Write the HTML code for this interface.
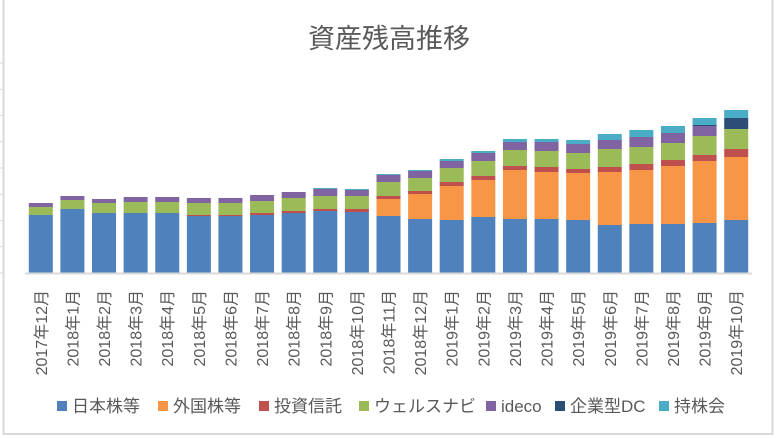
<!DOCTYPE html>
<html><head><meta charset="utf-8"><style>
html,body{margin:0;padding:0;background:#fff;}
svg{display:block;font-family:"Liberation Sans","Noto Sans CJK JP",sans-serif;}
</style></head><body>
<svg id="chart" width="777" height="438" viewBox="0 0 777 438">
<rect x="3.5" y="-2" width="769" height="436" fill="#fff" stroke="#d9d9d9" stroke-width="2"/>
<text x="389" y="48" text-anchor="middle" font-size="27" fill="#595959">資産残高推移</text>
<g id="plot"></g>
<g id="legend"></g>
</svg>
<script>
const categories=["2017年12月","2018年1月","2018年2月","2018年3月","2018年4月","2018年5月","2018年6月","2018年7月","2018年8月","2018年9月","2018年10月","2018年11月","2018年12月","2019年1月","2019年2月","2019年3月","2019年4月","2019年5月","2019年6月","2019年7月","2019年8月","2019年9月","2019年10月"];
const seriesNames=["日本株等","外国株等","投資信託","ウェルスナビ","ideco","企業型DC","持株会"];
const japanStocks=[58,64,60,60,60,57,57,58,60,62,61,57,54,53,56,54,54,53,48,49,49,50,53];
const foreignStocks=[0,0,0,0,0,0,0,0,0,0,0,17,25,34,37,49,47,47,53,54,58,62,63];
const investTrust=[0,0,0,0,0,1,1,2,2,2,3,3,3,4,4,4,5,4,5,6,6,6,8];
const wealthNavi=[8,9,10,11,11,12,12,12,13,13,13,14,13,14,15,16,16,16,18,17,17,19,20];
const ideco=[4,4,4,5,5,5,5,6,6,7,6,7,7,7,8,8,9,9,9,10,10,10,0];
const corporateDC=[0,0,0,0,0,0,0,0,0,0,0,0,0,0,0,0,0,0,0,0,0,1,11];
const stockPlan=[0,0,0,0,0,0,0,0,0,1,1,1,1,2,2,3,3,4,6,7,7,7,8];
const series=[japanStocks,foreignStocks,investTrust,wealthNavi,ideco,corporateDC,stockPlan];
const colors=["#4f81bd","#f79646","#c0504d","#9bbb59","#8064a2","#2c4d75","#4bacc6"];
const seriesKeys=["japan-stocks","foreign-stocks","investment-trust","wealthnavi","ideco","corporate-dc","stock-plan"];
const NS="http://www.w3.org/2000/svg";
const plot=document.getElementById('plot');
const x0=25,x1=752,baseY=273,topY=63,yMax=210;
const bw=(x1-x0)/categories.length;
const xScale=i=>x0+bw*i+bw/2;
const yScale=v=>baseY-(v/yMax)*(baseY-topY);
function mk(tag,attrs,parent){const e=document.createElementNS(NS,tag);for(const k in attrs)e.setAttribute(k,attrs[k]);parent.appendChild(e);return e;}
for(let k=0;k<=8;k++){const y=yScale(k*26.25);const t=mk('line',{x1:0,x2:3,y1:y,y2:y,stroke:'#d9d9d9','stroke-width':1},plot);

}
categories.forEach((c,i)=>{
  let acc=0;const cx=xScale(i);
  series.forEach((s,si)=>{
    const v=s[i];if(v<=0)return;
    const r=mk('rect',{x:cx-12,y:yScale(acc+v),width:24,height:yScale(acc)-yScale(acc+v),fill:colors[si]},plot);
    
    
    acc+=v;
  });
  const t=mk('text',{x:cx+6,y:290,transform:`rotate(-90 ${cx+6} 290)`,'text-anchor':'end','font-size':16,fill:'#595959'},plot);
  t.textContent=c;
  
  
});
const ax=mk('line',{x1:x0,x2:x1,y1:baseY+0.5,y2:baseY+0.5,stroke:'#d9d9d9','stroke-width':2},plot);


const legend=document.getElementById('legend');
const lx=[57,158,259,359,486,555,659];
seriesNames.forEach((n,i)=>{
  const g=mk('g',{},legend);
  
  
  mk('rect',{x:lx[i],y:401,width:10,height:10,fill:colors[i]},g);
  const t=mk('text',{x:lx[i]+15,y:412,'font-size':17,fill:'#595959'},g);
  t.textContent=n;
});
</script>
</body></html>
